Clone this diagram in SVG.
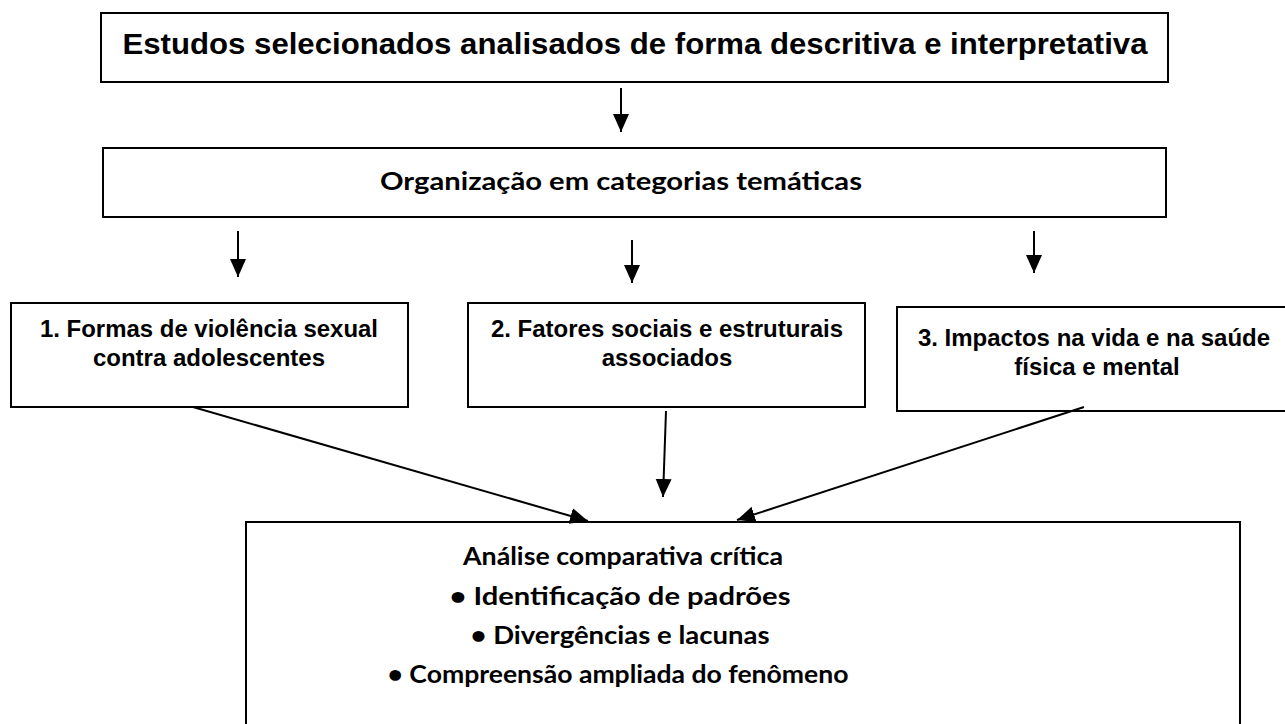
<svg xmlns="http://www.w3.org/2000/svg" width="1285" height="724" viewBox="0 0 1285 724">
<style>
.box{fill:#fff;stroke:#000;stroke-width:2}
.a{font-family:"Liberation Sans",Arial,sans-serif;font-weight:bold;font-size:24px;fill:#000;text-anchor:middle}
.c{font-family:Lato,"Open Sans",sans-serif;font-weight:bold;font-size:25px;fill:#000;text-anchor:middle}
.con line{stroke:#000;stroke-width:2;marker-end:url(#ah)}
</style>
<defs>
<marker id="ah" markerWidth="20" markerHeight="18" refX="18" refY="8" orient="auto" markerUnits="userSpaceOnUse">
<path d="M0,0 L18,8 L0,16 Z" fill="#000"/>
</marker>
</defs>
<rect width="1285" height="724" fill="#fff"/>
<g id="n1">
<rect class="box" x="101" y="13" width="1067" height="69"/>
<text class="a" x="635" y="54" style="font-size:30px" textLength="1025" lengthAdjust="spacingAndGlyphs">Estudos selecionados analisados de forma descritiva e interpretativa</text>
</g>
<g id="n2">
<rect class="box" x="103" y="148" width="1063" height="69"/>
<text class="c" x="621" y="190" textLength="482" lengthAdjust="spacingAndGlyphs">Organização em categorias temáticas</text>
</g>
<g id="n3">
<rect class="box" x="11" y="303" width="397" height="104"/>
<text class="a" x="209" y="337" textLength="338" lengthAdjust="spacingAndGlyphs">1. Formas de violência sexual</text>
<text class="a" x="209" y="366">contra adolescentes</text>
</g>
<g id="n4">
<rect class="box" x="468" y="303" width="397" height="104"/>
<text class="a" x="667" y="337">2. Fatores sociais e estruturais</text>
<text class="a" x="667" y="366">associados</text>
</g>
<g id="n5">
<rect class="box" x="897" y="307" width="390" height="104"/>
<text class="a" x="1094" y="346">3. Impactos na vida e na saúde</text>
<text class="a" x="1097" y="375">física e mental</text>
</g>
<g id="n6">
<rect class="box" x="246" y="522" width="994" height="230"/>
<text class="c" x="623" y="565" textLength="320" lengthAdjust="spacingAndGlyphs">Análise comparativa crítica</text>
<text class="c" x="620" y="605" textLength="341" lengthAdjust="spacingAndGlyphs">• Identificação de padrões</text>
<text class="c" x="620" y="644" textLength="299" lengthAdjust="spacingAndGlyphs">• Divergências e lacunas</text>
<text class="c" x="618" y="683" textLength="461" lengthAdjust="spacingAndGlyphs">• Compreensão ampliada do fenômeno</text>
</g>
<g id="connectors" class="con">
<line x1="621" y1="88" x2="621" y2="132"/>
<line x1="238" y1="231" x2="238" y2="277"/>
<line x1="632" y1="240" x2="632" y2="283"/>
<line x1="1034" y1="231" x2="1034" y2="273"/>
<line x1="193" y1="407" x2="588" y2="521"/>
<line x1="666" y1="411" x2="663" y2="497"/>
<line x1="1084" y1="407" x2="737" y2="520"/>
</g>
</svg>
